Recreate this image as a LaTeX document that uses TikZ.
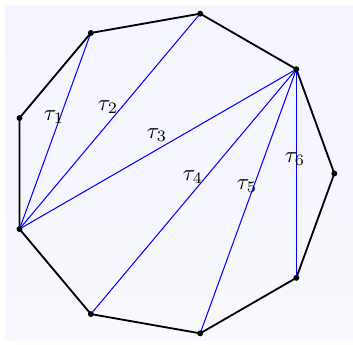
\documentclass[tikz,border=0pt]{standalone}
\begin{document}
\begin{tikzpicture}[
  edge/.style={black, thick},
  diag/.style={blue, line width=0.45pt},
  vdot/.style={circle, fill=black, inner sep=0pt, minimum size=2.6pt},
  lab/.style={inner sep=0pt}
]
\definecolor{bgtop}{RGB}{244,245,254}
\definecolor{bgbot}{RGB}{248,248,254}
\useasboundingbox (-2.6495,-2.6264) rectangle (2.788,2.6726);
\shade[top color=bgtop, bottom color=bgbot] (-2.572,-2.5648) rectangle (2.788,2.5956);
\foreach \k in {0,...,8} {
  \coordinate (v\k) at ({40*\k}:2.5);
}
\draw[edge] (v0) -- (v1) -- (v2) -- (v3) -- (v4) -- (v5) -- (v6) -- (v7) -- (v8) -- cycle;
\draw[diag] (v5) -- (v3);
\draw[diag] (v5) -- (v2);
\draw[diag] (v5) -- (v1);
\draw[diag] (v1) -- (v6);
\draw[diag] (v1) -- (v7);
\draw[diag] (v1) -- (v8);
\foreach \k in {0,...,8} {
  \node[vdot] (d\k) at (v\k) {};
}
\node[lab] (t1) at (-1.818,0.870) {$\tau_1$};
\node[lab] (t2) at (-0.986,1.024) {$\tau_2$};
\node[lab] (t3) at (-0.231,0.593) {$\tau_3$};
\node[lab] (t4) at (0.323,-0.054) {$\tau_4$};
\node[lab] (t5) at (1.155,-0.193) {$\tau_5$};
\node[lab] (t6) at (1.895,0.223) {$\tau_6$};
\end{tikzpicture}
\end{document}
